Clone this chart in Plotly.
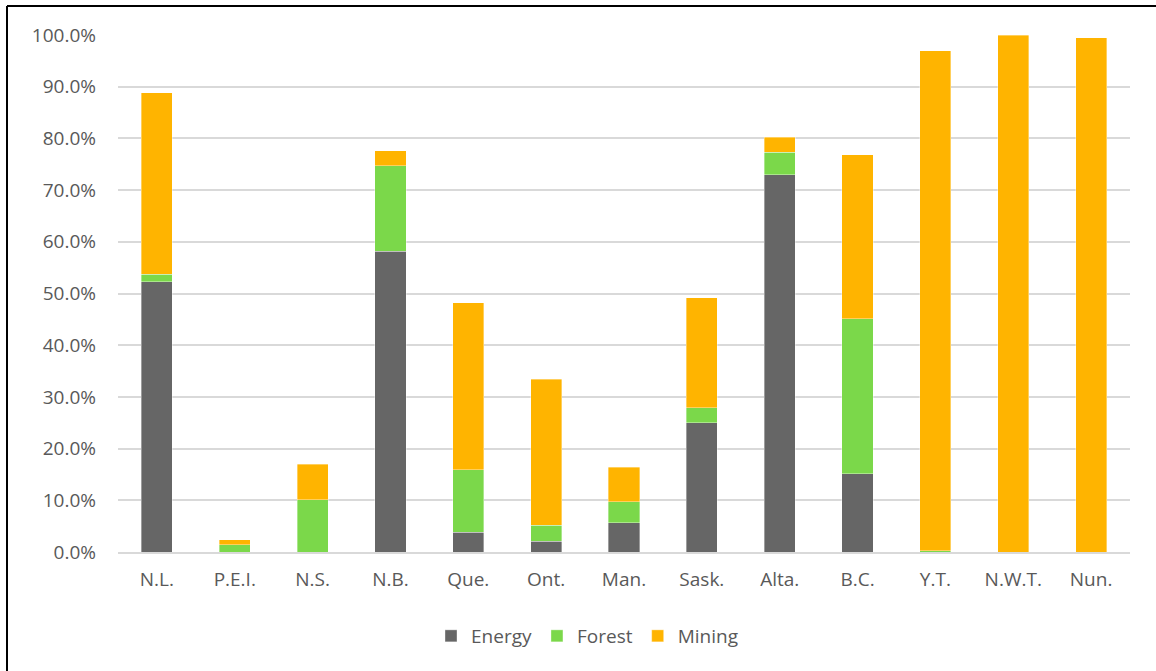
import plotly.graph_objects as go

# Share of sector (%) by province / territory
provinces = ["N.L.", "P.E.I.", "N.S.", "N.B.", "Que.", "Ont.", "Man.",
             "Sask.", "Alta.", "B.C.", "Y.T.", "N.W.T.", "Nun."]
energy = [52.3, 0.0, 0.0, 58.2, 3.8, 2.1, 5.7, 25.0, 73.0, 15.1, 0.0, 0.0, 0.0]
forest = [1.4, 1.4, 10.1, 16.5, 12.1, 3.1, 4.0, 2.9, 4.3, 30.0, 0.2, 0.0, 0.0]
mining = [35.1, 1.0, 6.9, 2.9, 32.3, 28.2, 6.7, 21.3, 2.9, 31.7, 96.8, 100.0, 99.5]

series = [("Energy", energy, "#666666"),
          ("Forest", forest, "#7BD84A"),
          ("Mining", mining, "#FFB400")]

FONT = "Open Sans"
TEXT = "#595959"
FS = 19

fig = go.Figure()
for name, vals, color in series:
    fig.add_trace(go.Bar(
        name=name,
        x=provinces,
        # empty segments are left out so they draw no outline
        y=[v / 100 if v > 0 else None for v in vals],
        marker=dict(color=color, line=dict(color="rgba(255,255,255,0.6)", width=0.6)),
    ))

# plot area in pixels: x 118..1130, y 35..552
L, R, T, B = 118, 1130, 35, 552
W, H = 1156, 671
pw, ph = R - L, B - T

def px_x(x):
    return (x - L) / pw

def px_y(y):
    return (B - y) / ph

fig.update_layout(
    width=W, height=H,
    barmode="stack",
    bargap=0.6,
    plot_bgcolor="white",
    paper_bgcolor="white",
    margin=dict(l=L, r=W - R, t=T, b=H - B, pad=0),
    font=dict(family=FONT, size=FS, color=TEXT),
    xaxis=dict(
        showgrid=False, zeroline=False, showline=True,
        linecolor="#D9D9D9", linewidth=1.5,
        ticks="", tickfont=dict(size=FS, color=TEXT),
        ticklabelstandoff=9,
    ),
    yaxis=dict(
        range=[0, 1.0],
        tickvals=[i / 10 for i in range(11)],
        tickformat=".1%",
        showgrid=True, gridcolor="#D9D9D9", gridwidth=1.5,
        zeroline=False, showline=False, ticks="",
        tickfont=dict(size=FS, color=TEXT),
        ticklabelstandoff=21,
    ),
    legend=dict(
        orientation="h",
        x=px_x(587), xanchor="center",
        y=px_y(636), yanchor="middle",
        font=dict(size=FS, color=TEXT),
        itemwidth=30,
        traceorder="normal",
    ),
    showlegend=True,
    shapes=[
        dict(type="line", xref="paper", yref="paper",
             x0=px_x(7), x1=px_x(W + 5), y0=px_y(6), y1=px_y(6),
             line=dict(color="black", width=2)),
        dict(type="line", xref="paper", yref="paper",
             x0=px_x(7), x1=px_x(7), y0=px_y(6), y1=px_y(H + 5),
             line=dict(color="black", width=2)),
    ],
)

fig.write_html("out.html")
